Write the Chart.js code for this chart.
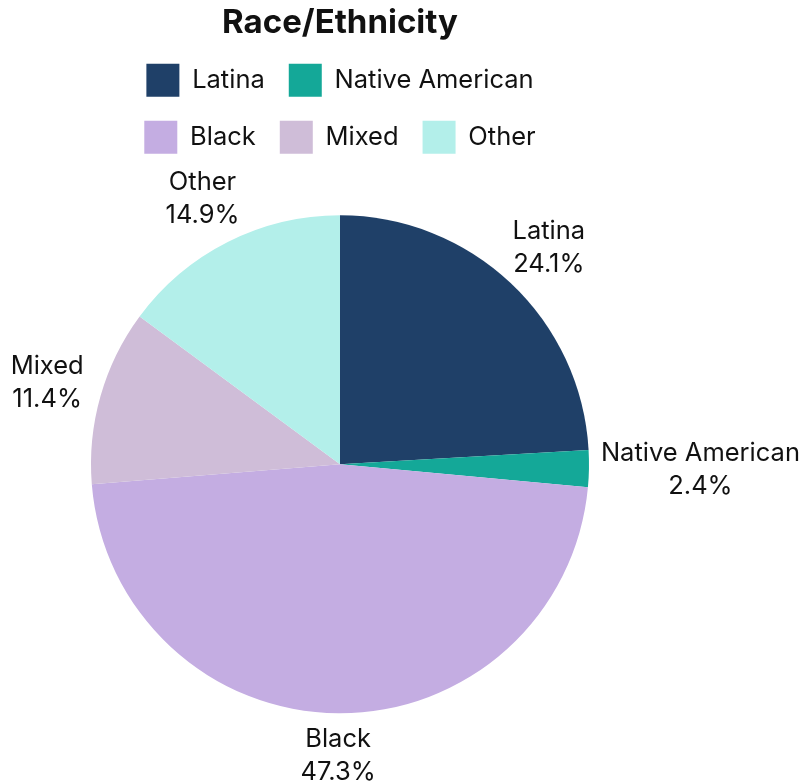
<!DOCTYPE html>
<html>
<head>
<meta charset="utf-8">
<script src="https://cdn.jsdelivr.net/npm/chart.js@4"></script>
<style>
  html, body { margin: 0; padding: 0; background: #ffffff; }
  #wrap { width: 804px; height: 783px; }
</style>
</head>
<body>
<div id="wrap"><canvas id="c" width="804" height="783"></canvas></div>
<script>
const categories = ["Latina", "Native American", "Black", "Mixed", "Other"];
const shares = [24.1, 2.4, 47.3, 11.4, 14.9];
const sliceColors = ["#1f4068", "#14a898", "#c4ade2", "#cfbdd8", "#b3efea"];
const chartTitle = "Race/Ethnicity";

const FONT = "Inter, 'Noto Sans', sans-serif";
const LABEL_SIZE = 25.5;
const LINE_GAP = 33;

const outsideLabels = {
  id: 'outsideLabels',
  afterDatasetsDraw(chart) {
    const ctx = chart.ctx;
    const meta = chart.getDatasetMeta(0);
    ctx.save();
    ctx.font = `400 ${LABEL_SIZE}px ${FONT}`;
    ctx.fillStyle = '#111111';
    ctx.textAlign = 'center';
    ctx.textBaseline = 'middle';
    meta.data.forEach((arc, i) => {
      const p = arc.getProps(['x', 'y', 'startAngle', 'endAngle', 'outerRadius'], true);
      const mid = (p.startAngle + p.endAngle) / 2;
      const c = Math.cos(mid), s = Math.sin(mid);
      const r = p.outerRadius + 19;
      const ax = p.x + c * r, ay = p.y + s * r;
      const l1 = categories[i];
      const l2 = shares[i].toFixed(1) + '%';
      const w = Math.max(ctx.measureText(l1).width, ctx.measureText(l2).width);
      const h = LINE_GAP + LABEL_SIZE;
      let cx = ax + c * w / 2;
      let cy = ay + s * h / 2;
      // keep the label inside the canvas
      cx = Math.min(Math.max(cx, w / 2 + 4), chart.width - w / 2 - 4);
      cy = Math.min(Math.max(cy, h / 2 + 2), chart.height - h / 2 + 2);
      ctx.fillText(l1, cx, cy - LINE_GAP / 2);
      ctx.fillText(l2, cx, cy + LINE_GAP / 2);
    });
    ctx.restore();
  }
};

new Chart(document.getElementById('c'), {
  type: 'pie',
  data: {
    labels: categories,
    datasets: [{
      data: shares,
      backgroundColor: sliceColors,
      borderWidth: 0,
      radius: 249,
      clip: false
    }]
  },
  options: {
    responsive: false,
    animation: false,
    layout: { padding: { left: 95, right: 219, top: 0, bottom: 18 } },
    plugins: {
      title: {
        display: true,
        text: chartTitle,
        color: '#111111',
        font: { family: FONT, size: 33, weight: '700', lineHeight: 1.02 },
        padding: { top: 6, bottom: 0 }
      },
      legend: {
        display: true,
        position: 'top',
        labels: {
          color: '#111111',
          font: { family: FONT, size: 25.5 },
          boxWidth: 33,
          boxHeight: 33,
          padding: 24
        }
      },
      tooltip: { enabled: false }
    }
  },
  plugins: [outsideLabels]
});
</script>
</body>
</html>
